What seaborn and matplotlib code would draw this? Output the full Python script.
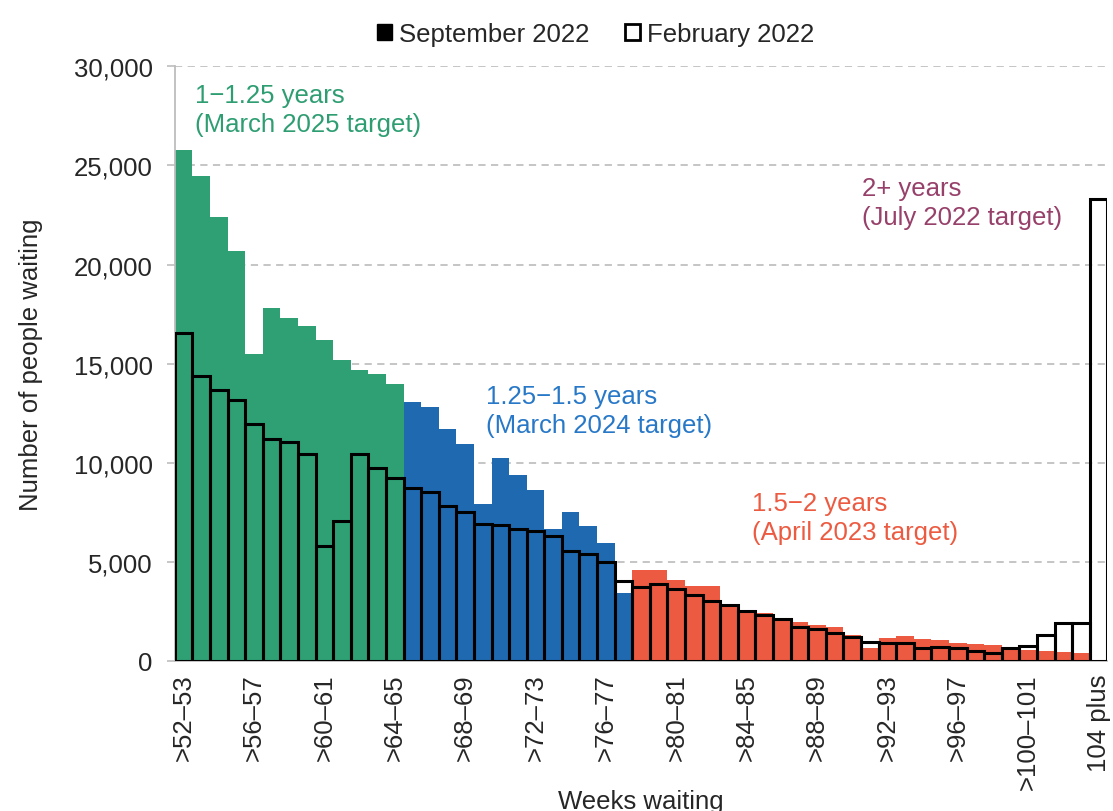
# Waiting list by weeks waiting: September 2022 vs February 2022
import numpy as np
import pandas as pd
import matplotlib
matplotlib.use("Agg")
import matplotlib.pyplot as plt
import seaborn as sns
from matplotlib.patches import Patch
from matplotlib.ticker import FuncFormatter, MultipleLocator

# ============================================
# Data
# ============================================

week_bins = [f">{w}\u2013{w + 1}" for w in range(52, 104)] + ["104 plus"]

sept_2022 = [
    25780, 24450, 22420, 20660, 15470, 17820, 17310, 16900, 16200, 15160, 14670, 14480, 13950,
    13080, 12820, 11700, 10940, 7900, 10240, 9360, 8620, 6670, 7530, 6820, 5950, 3430,
    4580, 4580, 4100, 3780, 3750, 2860, 2570, 2430, 2130, 1960, 1820, 1710, 1280, 640,
    1170, 1250, 1110, 1050, 910, 840, 790, 690, 520, 490, 440, 390,
    0,
]

feb_2022 = [
    16550, 14360, 13690, 13150, 11970, 11210, 11030, 10430, 5770, 7060, 10450, 9720, 9250,
    8720, 8520, 7830, 7510, 6910, 6860, 6660, 6550, 6290, 5560, 5390, 5010, 4050,
    3700, 3870, 3610, 3310, 3020, 2800, 2520, 2330, 2090, 1690, 1590, 1400, 1220, 930,
    910, 880, 640, 710, 640, 470, 410, 640, 740, 1320, 1890, 1890,
    23300,
]

groups = ["1-1.25"] * 13 + ["1.25-1.5"] * 13 + ["1.5-2"] * 26 + ["2+"]

group_colors = {
    "1-1.25": "#2fa074",
    "1.25-1.5": "#1f69b1",
    "1.5-2": "#ec5b41",
    "2+": "#96406a",
}

df = pd.DataFrame({"weeks": week_bins, "sept": sept_2022, "feb": feb_2022, "group": groups})

# ============================================
# Plot
# ============================================

sns.set_style("white")
plt.rcParams["font.family"] = ["Liberation Sans", "DejaVu Sans"]

fig = plt.figure(figsize=(11.13, 8.12), dpi=100)
ax = fig.add_axes([0.157, 0.185, 0.838, 0.732])

sns.barplot(data=df, x="weeks", y="sept", hue="group", palette=group_colors,
            dodge=False, width=1.0, linewidth=0, saturation=1, legend=False,
            ax=ax, zorder=2)
sns.barplot(data=df, x="weeks", y="feb", fill=False, color="black",
            width=1.0, linewidth=2.2, ax=ax, zorder=3)

ax.set_xlim(-0.5, len(week_bins) - 0.5)
ax.set_ylim(0, 30000)
ax.yaxis.set_major_locator(MultipleLocator(5000))
ax.yaxis.set_major_formatter(FuncFormatter(lambda v, p: f"{int(v):,}"))
ax.grid(axis="y", linestyle=(0, (4, 3)), color="#c0c0c0", linewidth=1.3, zorder=0)
ax.set_axisbelow(True)

# x tick labels on every fourth bin plus the last
pos = np.arange(len(week_bins))
labels = [lab if (i % 4 == 0 or i == len(week_bins) - 1) else "" for i, lab in enumerate(week_bins)]
ax.set_xticks(pos)
ax.set_xticklabels(labels, rotation=90, fontsize=18.5)
ax.tick_params(axis="x", length=0, pad=9)
ax.set_xticks(np.arange(-0.5, len(week_bins)), minor=True)
ax.tick_params(axis="x", which="minor", length=6, color="#bdbdbd", width=1.2)
ax.tick_params(axis="y", labelsize=18.5, length=6, color="#bdbdbd", width=1.2,
               left=True, pad=10)

for side in ["top", "right"]:
    ax.spines[side].set_visible(False)
for side in ["left", "bottom"]:
    ax.spines[side].set_color("#bdbdbd")
    ax.spines[side].set_linewidth(1.3)

ax.set_xlabel("Weeks waiting", fontsize=18.5, labelpad=0)
ax.set_ylabel("Number of people waiting", fontsize=18.5, labelpad=22)

# Annotations for each target group
ax.text(0.64, 29150, "1\u22121.25 years\n(March 2025 target)", color="#2e9e72",
        fontsize=18.5, va="top", ha="left", linespacing=1.25)
ax.text(17.18, 13950, "1.25\u22121.5 years\n(March 2024 target)", color="#2878c8",
        fontsize=18.5, va="top", ha="left", linespacing=1.25)
ax.text(32.3, 8550, "1.5\u22122 years\n(April 2023 target)", color="#ec5b41",
        fontsize=18.5, va="top", ha="left", linespacing=1.25)
ax.text(38.58, 24450, "2+ years\n(July 2022 target)", color="#96406a",
        fontsize=18.5, va="top", ha="left", linespacing=1.25)

# Legend
handles = [
    Patch(facecolor="black", edgecolor="black", label="September 2022"),
    Patch(facecolor="white", edgecolor="black", linewidth=2, label="February 2022"),
]
fig.legend(handles=handles, loc="upper center", bbox_to_anchor=(0.535, 1.0), ncol=2,
           frameon=False, fontsize=18.5, handlelength=0.6, handleheight=0.6,
           handletextpad=0.25, columnspacing=1.4)

fig.savefig("out.png", dpi=100)
